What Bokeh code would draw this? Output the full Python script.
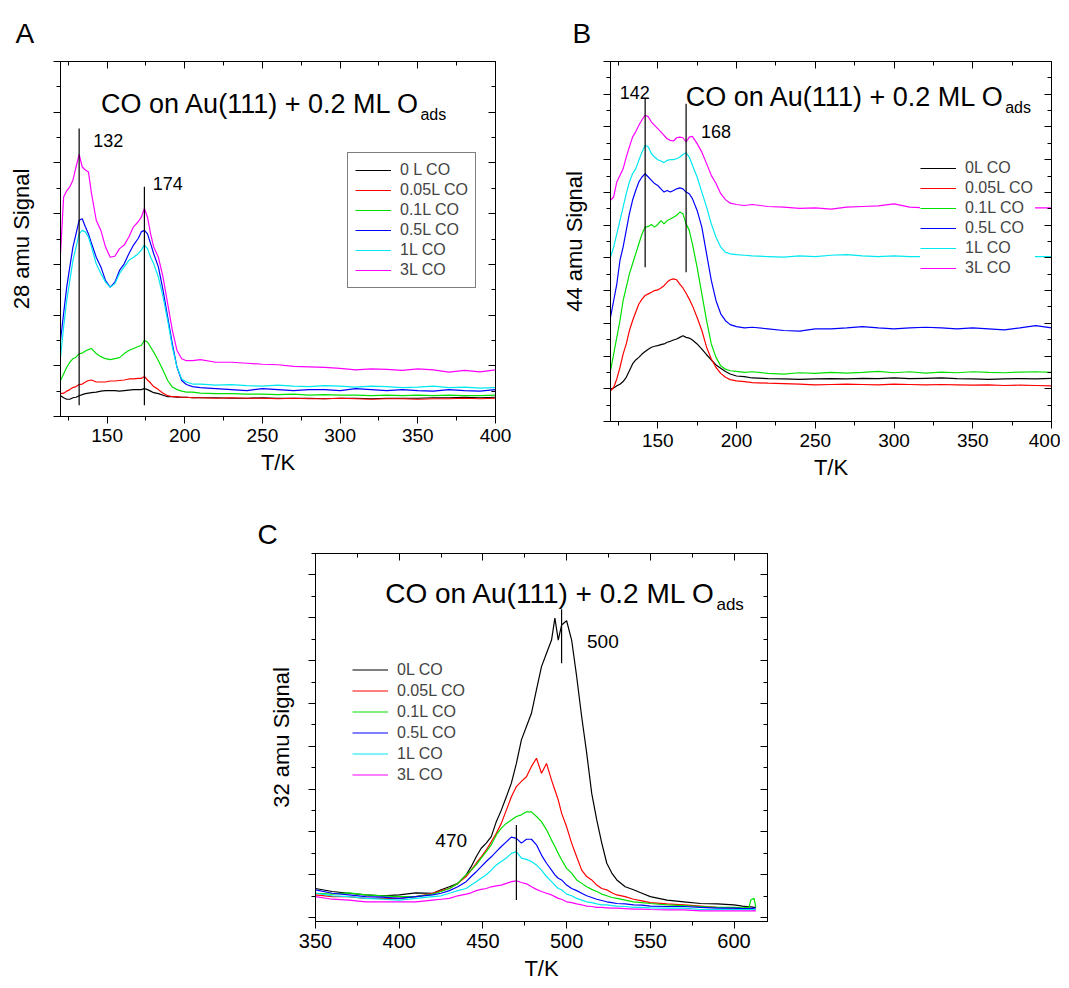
from bokeh.plotting import figure
from bokeh.models import (FixedTicker, LinearAxis, Range1d, Legend, LegendItem,
                          Title, Spacer)
from bokeh.layouts import row, column
from bokeh.core.properties import value
from bokeh.embed import file_html
from bokeh.resources import INLINE

FONT = "Liberation Sans"

# ---------------- data ----------------
SERIES_LABELS_A = ["0 L CO", "0.05L CO", "0.1L CO", "0.5L CO", "1L CO", "3L CO"]
SERIES_LABELS = ["0L CO", "0.05L CO", "0.1L CO", "0.5L CO", "1L CO", "3L CO"]
COLORS = ["#000000", "#ff0000", "#00e000", "#0000ff", "#00e8f0", "#ff00ff"]

# Panel A: 28 amu
T_A = [120, 122, 124, 126, 128, 130, 132, 134, 136, 138, 140, 143, 146, 149, 152, 155, 158, 161, 164, 167,
       170, 172, 174, 176, 178, 180, 183, 186, 189, 192, 195, 198, 201, 205, 210, 220, 230, 240, 250, 260,
       270, 280, 290, 300, 310, 320, 330, 340, 350, 360, 370, 380, 390, 400]
A_0L = [0.41, 0.37, 0.34, 0.34, 0.37, 0.38, 0.41, 0.43, 0.45, 0.46, 0.47, 0.48, 0.50, 0.51, 0.51, 0.51, 0.50, 0.51, 0.52, 0.53,
        0.53, 0.53, 0.55, 0.53, 0.50, 0.47, 0.45, 0.42, 0.39, 0.39, 0.38, 0.38, 0.38, 0.37, 0.37, 0.37, 0.36, 0.36, 0.37, 0.36,
        0.36, 0.36, 0.35, 0.36, 0.36, 0.35, 0.36, 0.36, 0.36, 0.37, 0.37, 0.38, 0.37, 0.38]
A_005L = [0.45, 0.46, 0.50, 0.53, 0.57, 0.59, 0.63, 0.64, 0.68, 0.71, 0.72, 0.68, 0.68, 0.68, 0.70, 0.70, 0.71, 0.72, 0.74, 0.74,
          0.75, 0.75, 0.79, 0.72, 0.66, 0.59, 0.53, 0.46, 0.41, 0.39, 0.39, 0.38, 0.38, 0.37, 0.37, 0.36, 0.37, 0.36, 0.36, 0.35,
          0.36, 0.35, 0.35, 0.36, 0.35, 0.34, 0.35, 0.35, 0.34, 0.35, 0.35, 0.36, 0.35, 0.36]
A_01L = [0.71, 0.84, 0.97, 1.07, 1.14, 1.17, 1.24, 1.25, 1.29, 1.32, 1.34, 1.24, 1.18, 1.14, 1.12, 1.14, 1.16, 1.24, 1.30, 1.34,
         1.38, 1.40, 1.50, 1.47, 1.37, 1.27, 1.10, 0.91, 0.71, 0.58, 0.53, 0.50, 0.48, 0.48, 0.46, 0.45, 0.45, 0.44, 0.44, 0.43,
         0.44, 0.42, 0.43, 0.42, 0.42, 0.41, 0.42, 0.41, 0.42, 0.41, 0.42, 0.41, 0.41, 0.42]
A_05L = [1.50, 2.03, 2.55, 2.95, 3.34, 3.60, 3.87, 3.90, 3.74, 3.60, 3.41, 3.14, 2.95, 2.68, 2.55, 2.65, 2.88, 3.01, 3.21, 3.38,
         3.51, 3.64, 3.67, 3.60, 3.41, 3.21, 2.95, 2.49, 1.96, 1.43, 0.97, 0.71, 0.63, 0.59, 0.57, 0.55, 0.53, 0.51, 0.55, 0.53,
         0.51, 0.53, 0.53, 0.51, 0.55, 0.53, 0.51, 0.53, 0.51, 0.50, 0.53, 0.51, 0.50, 0.53]
A_1L = [1.17, 1.76, 2.29, 2.68, 3.08, 3.34, 3.60, 3.67, 3.64, 3.54, 3.34, 3.01, 2.82, 2.65, 2.55, 2.62, 2.82, 2.95, 3.08, 3.14,
        3.21, 3.28, 3.38, 3.31, 3.14, 3.01, 2.75, 2.36, 1.89, 1.37, 0.97, 0.74, 0.68, 0.64, 0.64, 0.62, 0.63, 0.61, 0.60, 0.62,
        0.60, 0.59, 0.61, 0.60, 0.58, 0.60, 0.59, 0.57, 0.58, 0.60, 0.57, 0.58, 0.56, 0.57]
A_3L = [3.20, 4.33, 4.45, 4.53, 4.66, 4.92, 5.17, 4.92, 4.86, 4.82, 4.39, 3.87, 3.67, 3.34, 3.14, 3.16, 3.31, 3.38, 3.54, 3.74,
        3.84, 3.93, 4.10, 3.93, 3.60, 3.34, 3.14, 2.75, 2.22, 1.70, 1.30, 1.14, 1.10, 1.10, 1.12, 1.07, 1.07, 1.05, 1.03, 1.02,
        0.99, 0.98, 0.97, 0.95, 0.92, 0.94, 0.93, 0.91, 0.94, 0.92, 0.875, 0.91, 0.88, 0.92]
PEAK_A_T = [132, 174]
PEAK_A_Y0 = [0.22, 0.22]
PEAK_A_Y1 = [5.68, 4.53]
PEAK_A_TXT = ["132", "174"]

# Panel B: 44 amu
T_B = [120, 122, 124, 126, 128, 130, 132, 134, 136, 138, 140, 142, 144, 146, 148, 150, 152, 154, 156, 158,
       160, 162, 164, 166, 168, 170, 172, 175, 178, 181, 184, 187, 190, 193, 196, 200, 205, 210, 220, 230,
       240, 250, 260, 270, 280, 290, 300, 310, 320, 330, 340, 350, 360, 370, 380, 390, 400]
B_0L = [0.99, 1.02, 1.09, 1.14, 1.22, 1.35, 1.55, 1.76, 1.88, 1.96, 2.06, 2.14, 2.21, 2.27, 2.30, 2.32, 2.35, 2.37, 2.42, 2.45,
        2.49, 2.52, 2.57, 2.62, 2.57, 2.55, 2.49, 2.37, 2.21, 2.04, 1.88, 1.73, 1.63, 1.53, 1.45, 1.39, 1.37, 1.33, 1.31, 1.30,
        1.29, 1.30, 1.31, 1.30, 1.32, 1.31, 1.33, 1.31, 1.32, 1.33, 1.31, 1.30, 1.29, 1.30, 1.31, 1.30, 1.32]
B_005L = [0.94, 1.04, 1.30, 1.65, 2.06, 2.37, 2.78, 3.08, 3.34, 3.59, 3.74, 3.85, 3.90, 3.95, 4.00, 4.02, 4.08, 4.15, 4.26, 4.33,
          4.36, 4.33, 4.20, 4.08, 3.92, 3.74, 3.54, 3.18, 2.78, 2.27, 1.91, 1.65, 1.47, 1.35, 1.28, 1.24, 1.22, 1.19, 1.17, 1.16,
          1.14, 1.12, 1.13, 1.14, 1.13, 1.12, 1.14, 1.13, 1.12, 1.13, 1.12, 1.11, 1.12, 1.10, 1.11, 1.10, 1.09]
B_01L = [1.55, 2.06, 2.57, 3.08, 3.69, 4.10, 4.51, 4.82, 5.12, 5.43, 5.73, 5.94, 5.96, 6.02, 5.94, 6.02, 6.14, 6.04, 6.14, 6.19,
         6.24, 6.30, 6.40, 6.35, 6.04, 5.84, 5.43, 4.71, 3.90, 3.08, 2.37, 1.96, 1.70, 1.60, 1.55, 1.53, 1.50, 1.52, 1.47, 1.45,
         1.49, 1.47, 1.50, 1.48, 1.50, 1.53, 1.49, 1.52, 1.48, 1.51, 1.49, 1.52, 1.50, 1.49, 1.51, 1.52, 1.50]
B_05L = [3.18, 3.69, 4.20, 4.92, 5.33, 5.84, 6.35, 6.76, 7.06, 7.32, 7.47, 7.57, 7.47, 7.37, 7.27, 7.21, 7.11, 7.01, 7.06, 7.01,
         7.06, 7.11, 7.14, 7.11, 7.01, 6.96, 6.81, 6.45, 5.94, 5.12, 4.31, 3.69, 3.29, 3.08, 2.96, 2.90, 2.86, 2.88, 2.83, 2.78,
         2.76, 2.83, 2.83, 2.86, 2.90, 2.86, 2.83, 2.86, 2.88, 2.86, 2.83, 2.86, 2.83, 2.80, 2.86, 2.93, 2.86]
B_1L = [5.02, 5.33, 5.73, 6.14, 6.55, 6.96, 7.32, 7.57, 7.72, 7.98, 8.23, 8.44, 8.39, 8.18, 8.08, 8.00, 7.96, 7.91, 7.98, 8.00,
        8.00, 8.03, 8.08, 8.16, 8.21, 8.08, 7.83, 7.47, 7.01, 6.55, 6.04, 5.63, 5.33, 5.17, 5.12, 5.10, 5.08, 5.06, 5.04, 5.02,
        5.06, 5.04, 5.08, 5.10, 5.06, 5.04, 5.06, 5.04, 5.04, 5.04, 5.04, 5.04, 5.04, 5.04, 5.04, 5.04, 5.04]
B_3L = [6.76, 6.86, 7.32, 7.52, 7.72, 8.08, 8.39, 8.69, 8.85, 9.05, 9.22, 9.36, 9.31, 9.15, 9.05, 8.95, 8.85, 8.74, 8.64, 8.59,
        8.57, 8.67, 8.69, 8.67, 8.54, 8.69, 8.71, 8.49, 8.23, 7.88, 7.52, 7.27, 6.96, 6.78, 6.67, 6.63, 6.60, 6.63, 6.57, 6.55,
        6.51, 6.53, 6.49, 6.55, 6.57, 6.59, 6.65, 6.55, 6.53, 6.53, 6.53, 6.53, 6.53, 6.53, 6.53, 6.53, 6.53]
PEAK_B_T = [142, 168]
PEAK_B_Y0 = [4.71, 4.56]
PEAK_B_Y1 = [9.86, 9.71]
PEAK_B_TXT = ["142", "168"]

# Panel C: 32 amu
T_C = [350, 360, 370, 380, 390, 400, 410, 420, 425, 430, 435, 440, 443, 446, 449, 452, 455, 458, 461, 464,
       467, 470, 473, 476, 479, 482, 485, 488, 491, 493, 495, 497, 500, 503, 506, 509, 512, 515, 518, 521,
       524, 527, 530, 535, 540, 545, 550, 560, 570, 580, 590, 600, 605, 609, 610, 612, 613]
C_0L = [0.68, 0.61, 0.57, 0.53, 0.51, 0.53, 0.58, 0.57, 0.65, 0.72, 0.80, 1.00, 1.19, 1.42, 1.62, 1.74, 1.89, 2.24, 2.51, 2.82,
        3.14, 3.60, 4.15, 4.46, 4.77, 5.32, 5.86, 6.17, 6.48, 6.99, 6.48, 6.83, 6.93, 6.48, 5.63, 4.69, 3.84, 2.90, 2.28, 1.74,
        1.27, 1.04, 0.88, 0.72, 0.65, 0.57, 0.49, 0.41, 0.37, 0.33, 0.32, 0.30, 0.27, 0.25, 0.25, 0.24, 0.24]
C_005L = [0.53, 0.49, 0.49, 0.45, 0.45, 0.45, 0.49, 0.57, 0.63, 0.68, 0.80, 0.96, 1.11, 1.27, 1.42, 1.58, 1.77, 1.97, 2.20, 2.51,
          2.82, 3.06, 3.18, 3.29, 3.53, 3.72, 3.37, 3.60, 3.21, 2.98, 2.75, 2.44, 2.12, 1.74, 1.42, 1.11, 0.96, 0.88, 0.76, 0.68,
          0.65, 0.58, 0.53, 0.49, 0.43, 0.39, 0.35, 0.32, 0.30, 0.27, 0.24, 0.22, 0.21, 0.20, 0.20, 0.18, 0.18]
C_01L = [0.57, 0.55, 0.58, 0.53, 0.51, 0.49, 0.49, 0.55, 0.61, 0.68, 0.80, 1.00, 1.11, 1.23, 1.39, 1.54, 1.70, 1.93, 2.09, 2.20,
         2.28, 2.36, 2.40, 2.47, 2.47, 2.36, 2.24, 2.05, 1.81, 1.66, 1.50, 1.35, 1.15, 1.04, 0.88, 0.80, 0.72, 0.66, 0.61, 0.55,
         0.51, 0.47, 0.45, 0.41, 0.37, 0.35, 0.33, 0.30, 0.28, 0.26, 0.24, 0.24, 0.23, 0.24, 0.41, 0.45, 0.24]
C_05L = [0.65, 0.57, 0.53, 0.49, 0.48, 0.45, 0.49, 0.53, 0.57, 0.63, 0.72, 0.84, 0.96, 1.07, 1.19, 1.31, 1.42, 1.54, 1.66, 1.77,
         1.88, 1.85, 1.74, 1.83, 1.83, 1.70, 1.46, 1.27, 1.11, 1.00, 0.92, 0.88, 0.76, 0.68, 0.63, 0.57, 0.51, 0.47, 0.43, 0.40,
         0.37, 0.35, 0.33, 0.32, 0.30, 0.29, 0.27, 0.26, 0.26, 0.24, 0.22, 0.22, 0.21, 0.21, 0.21, 0.22, 0.22]
C_1L = [0.57, 0.51, 0.49, 0.45, 0.43, 0.41, 0.45, 0.49, 0.51, 0.57, 0.63, 0.68, 0.76, 0.84, 0.92, 1.00, 1.11, 1.23, 1.31, 1.39,
        1.50, 1.54, 1.39, 1.36, 1.31, 1.23, 1.11, 0.96, 0.84, 0.76, 0.68, 0.65, 0.55, 0.51, 0.45, 0.41, 0.37, 0.35, 0.32, 0.30,
        0.30, 0.28, 0.27, 0.26, 0.24, 0.24, 0.23, 0.22, 0.22, 0.19, 0.19, 0.19, 0.19, 0.19, 0.19, 0.19, 0.19]
C_3L = [0.49, 0.43, 0.41, 0.37, 0.37, 0.37, 0.37, 0.41, 0.43, 0.45, 0.51, 0.55, 0.58, 0.63, 0.66, 0.68, 0.72, 0.74, 0.76, 0.80,
        0.84, 0.86, 0.82, 0.79, 0.72, 0.66, 0.61, 0.57, 0.53, 0.49, 0.45, 0.43, 0.37, 0.35, 0.32, 0.30, 0.27, 0.26, 0.24, 0.24,
        0.23, 0.22, 0.22, 0.21, 0.20, 0.20, 0.19, 0.18, 0.18, 0.16, 0.16, 0.16, 0.16, 0.16, 0.16, 0.16, 0.16]
PEAK_C_T = [497, 470]
PEAK_C_Y0 = [5.94, 0.41]
PEAK_C_Y1 = [7.20, 2.16]
PEAK_C_TXT = ["500", "470"]

TITLE_MAIN = "CO on Au(111) + 0.2 ML O"
TITLE_SUB = "ads"


def make_panel(T, ys, labels, xr, yr, xticks, xminor, yticks, yminor,
               frame, borders, ylabel, tick_font, label_font):
    fw, fh = frame
    bl, br, bt, bb = borders
    p = figure(frame_width=fw, frame_height=fh,
               x_range=Range1d(*xr), y_range=Range1d(*yr),
               output_backend="svg", toolbar_location=None,
               min_border_left=bl, min_border_right=br,
               min_border_top=bt, min_border_bottom=bb)
    p.grid.visible = False
    p.outline_line_color = "black"
    p.outline_line_width = 1
    p.background_fill_color = "white"
    p.border_fill_color = "white"

    xt = FixedTicker(ticks=xticks, minor_ticks=xminor)
    yt = FixedTicker(ticks=yticks, minor_ticks=yminor)

    for ax, tk in ((p.xaxis[0], xt), (p.yaxis[0], yt)):
        ax.ticker = tk
        ax.axis_line_color = "black"
        ax.major_tick_line_color = "black"
        ax.minor_tick_line_color = "black"
        ax.major_tick_in = 0
        ax.major_tick_out = 7
        ax.minor_tick_in = 0
        ax.minor_tick_out = 4
        ax.axis_label_text_font = FONT
        ax.axis_label_text_font_style = "normal"
        ax.axis_label_text_font_size = label_font
        ax.axis_label_text_color = "black"
        ax.major_label_text_font = FONT
        ax.major_label_text_font_size = tick_font
        ax.major_label_text_color = "black"

    p.xaxis[0].axis_label = "T/K"
    p.yaxis[0].axis_label = ylabel
    # the reference shows no y tick labels
    p.yaxis[0].major_label_text_font_size = "1px"
    p.yaxis[0].major_label_text_color = None
    p.yaxis[0].major_label_standoff = 0

    # mirrored axes (ticks pointing inward, no labels)
    for loc, tk in (("above", xt), ("right", yt)):
        ax = LinearAxis(ticker=tk, major_label_text_font_size="1px",
                        major_label_text_color=None,
                        major_label_standoff=0,
                        major_tick_in=7, major_tick_out=0,
                        minor_tick_in=4, minor_tick_out=0,
                        axis_line_color="black",
                        major_tick_line_color="black",
                        minor_tick_line_color="black")
        p.add_layout(ax, loc)

    rends = []
    for y, c in zip(ys, COLORS):
        r = p.line(T, y, line_color=c, line_width=1.2)
        rends.append(r)
    items = [LegendItem(label=lab, renderers=[r]) for lab, r in zip(labels, rends)]
    return p, items


def add_title(p, x, yb, ysub, size, subsize):
    p.text(x=[x], y=[yb], text=[TITLE_MAIN], text_align="right",
           text_baseline="alphabetic", text_font=value(FONT),
           text_font_size=size, text_color="black")
    p.text(x=[x], y=[ysub], text=[TITLE_SUB], text_align="left",
           text_baseline="alphabetic", text_font=value(FONT),
           text_font_size=subsize, text_color="black")


def add_peaks(p, ts, y0, y1, txts, pos, size):
    p.segment(x0=ts, y0=y0, x1=ts, y1=y1, line_color="black", line_width=1.2)
    for t, (x, y) in zip(txts, pos):
        p.text(x=[x], y=[y], text=[t], text_align="left", text_baseline="alphabetic",
               text_font=value(FONT), text_font_size=size, text_color="black")


def add_legend(p, items, loc, border, label_height, label_width):
    lg = Legend(items=items, location=loc, padding=7, margin=0, spacing=0,
                glyph_width=36, glyph_height=label_height, label_height=label_height,
                label_width=label_width, label_standoff=9,
                label_text_font=FONT, label_text_font_size="16px",
                background_fill_color="white", background_fill_alpha=1.0,
                border_line_color="black" if border else None,
                border_line_width=1)
    p.add_layout(lg)


def add_letter(p, txt, offset, standoff):
    p.add_layout(Title(text=txt, align="left", offset=offset, standoff=standoff,
                       text_font=FONT, text_font_size="28px", text_font_style="normal",
                       text_color="black"), "above")


# ---------------- Panel A ----------------
pA, itemsA = make_panel(T_A, [A_0L, A_005L, A_01L, A_05L, A_1L, A_3L], SERIES_LABELS_A,
                        (120, 400), (0, 7),
                        [150, 200, 250, 300, 350, 400], [125, 175, 225, 275, 325, 375],
                        list(range(0, 8)), [0.5 + i for i in range(7)],
                        (435, 355), (60, 45, 61, 84), "28 amu Signal", "19px", "22px")
pA.xaxis[0].major_label_standoff = 6
pA.xaxis[0].axis_label_standoff = 6
pA.yaxis[0].axis_label_standoff = 20
add_title(pA, 351.7, 6.16, 5.96, "27px", "16px")
add_peaks(pA, PEAK_A_T, PEAK_A_Y0, PEAK_A_Y1, PEAK_A_TXT, [(141.0, 5.44), (179.4, 4.60)], "18px")
add_legend(pA, itemsA, (287, 128), True, 20, 60)
add_letter(pA, "A", -45, 26)

# ---------------- Panel B ----------------
pB, itemsB = make_panel(T_B, [B_0L, B_005L, B_01L, B_05L, B_1L, B_3L], SERIES_LABELS,
                        (120, 400), (0, 11),
                        [150, 200, 250, 300, 350, 400], [125, 175, 225, 275, 325, 375],
                        list(range(0, 12)), [0.5 + i for i in range(11)],
                        (441, 360), (70, 9, 61, 79), "44 amu Signal", "19px", "22px")
pB.xaxis[0].major_label_standoff = 7
pB.xaxis[0].axis_label_standoff = 10
pB.yaxis[0].axis_label_standoff = 17
add_title(pB, 370.6, 9.91, 9.58, "27px", "16px")
add_peaks(pB, PEAK_B_T, PEAK_B_Y0, PEAK_B_Y1, PEAK_B_TXT, [(125.8, 10.06), (177.5, 8.87)], "18px")
add_legend(pB, itemsB, (310, 143), False, 20, 70)
add_letter(pB, "B", -38, 26)

# ---------------- Panel C ----------------
pC, itemsC = make_panel(T_C, [C_0L, C_005L, C_01L, C_05L, C_1L, C_3L], SERIES_LABELS,
                        (350, 620), (-0.09, 8.5),
                        [350, 400, 450, 500, 550, 600], [375, 425, 475, 525, 575],
                        list(range(0, 9)), [0.5 + i for i in range(9)],
                        (452, 368), (75, 20, 53, 66), "32 amu Signal", "20px", "22px")
pC.xaxis[0].major_label_standoff = 7
pC.xaxis[0].axis_label_standoff = 11
pC.yaxis[0].axis_label_standoff = 15
add_title(pC, 589.5, 7.56, 7.32, "28px", "17px")
add_peaks(pC, PEAK_C_T, PEAK_C_Y0, PEAK_C_Y1, PEAK_C_TXT, [(512.2, 6.44), (421.6, 1.80)], "19px")
add_legend(pC, itemsC, (37, 136), False, 21, 60)
add_letter(pC, "C", -58, 7)

layout = column(row(pA, pB, spacing=0),
                row(Spacer(width=240, height=10), pC, spacing=0),
                spacing=0)

open("out.html", "w").write(file_html(layout, INLINE))
